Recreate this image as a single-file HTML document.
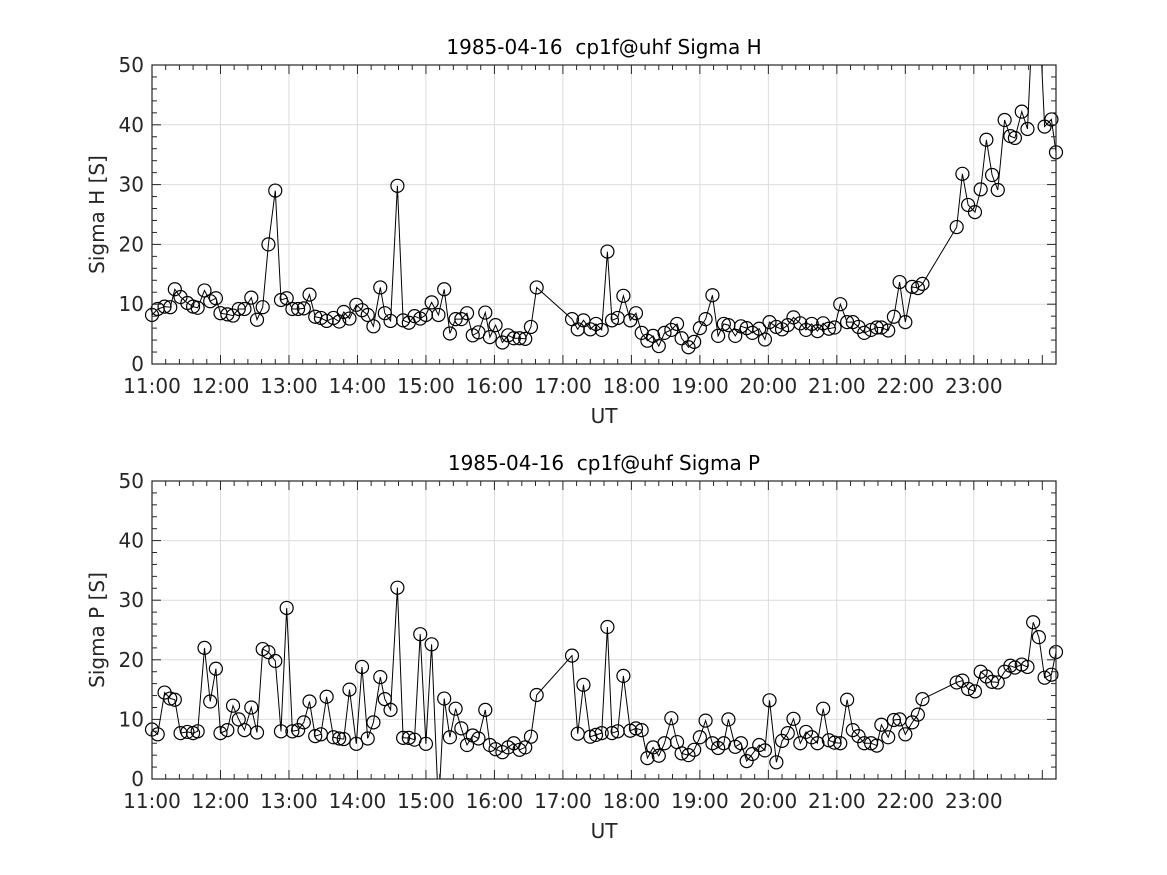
<!DOCTYPE html>
<html><head><meta charset="utf-8"><style>
body{margin:0;background:#fff;}
svg{display:block;font-family:"DejaVu Sans","Liberation Sans",sans-serif;}
text{white-space:pre;}
</style></head><body>
<svg id="fig" width="1167" height="875" viewBox="0 0 1167 875"></svg>
<script>
const times=[0,5,11,16,20,25,31,36,40,46,51,56,60,66,71,76,81,87,92,97,102,108,113,118,123,128,133,138,143,148,153,159,164,168,173,179,184,189,194,200,204,209,215,220,225,230,235,240,245,251,256,261,266,271,276,281,286,292,296,301,307,312,317,322,327,332,337,368,373,378,384,389,394,399,403,408,413,419,424,429,434,439,444,449,455,460,464,470,475,480,485,491,496,501,505,511,516,521,526,532,537,541,547,552,557,562,568,573,578,583,588,593,598,603,609,614,619,624,630,635,639,645,650,655,660,666,671,675,705,710,715,721,726,731,736,741,747,752,756,762,767,772,777,782,788,792];
const sigmaH=[8.2,9.2,9.6,9.5,12.5,11.2,10.2,9.6,9.4,12.3,10.5,11,8.5,8.3,8.1,9.2,9.2,11.1,7.4,9.5,20,29,10.7,11,9.2,9.2,9.3,11.6,7.9,7.7,7.2,7.7,7.1,8.7,7.6,9.9,9,8.2,6.3,12.8,8.5,7.2,29.8,7.3,6.9,8,7.6,8.2,10.3,8.2,12.5,5.1,7.5,7.5,8.5,4.8,5.3,8.6,4.5,6.5,3.6,4.8,4.3,4.3,4.2,6.2,12.8,7.5,5.8,7.3,5.8,6.7,5.7,18.8,7.3,7.7,11.4,7.3,8.5,5.2,3.9,4.7,3,5.2,5.7,6.7,4.3,2.8,3.7,6,7.5,11.5,4.7,6.7,6.5,4.7,6.3,6,5.2,5.9,4.1,7,6.2,5.8,6.5,7.8,6.8,5.7,6.7,5.5,6.8,5.9,6.1,10,7,7,6.2,5.2,5.7,6.1,6.1,5.6,7.9,13.7,7,12.9,12.7,13.4,22.9,31.8,26.6,25.4,29.2,37.5,31.6,29.1,40.8,38.1,37.8,42.2,39.3,60,60,39.7,40.9,35.4];
const sigmaP=[8.3,7.5,14.5,13.5,13.3,7.7,7.9,7.7,8,22,13,18.5,7.7,8.2,12.3,10,8.2,12,7.8,21.8,21.3,19.8,8,28.7,8,8.2,9.5,13,7.2,7.5,13.8,7,6.8,6.7,15,5.9,18.8,6.8,9.5,17.1,13.4,11.6,32.1,6.9,6.9,6.6,24.3,5.9,22.6,-5,13.5,7,11.8,8.5,5.7,7.3,6.8,11.6,5.7,5,4.5,5.3,6,4.9,5.3,7.1,14.1,20.7,7.6,15.8,7.1,7.4,7.7,25.5,7.7,8,17.3,8.1,8.5,8.2,3.5,5.3,3.9,6,10.2,6.2,4.3,4,4.9,7,9.8,6,5.2,6,10,5.4,6,3,4.2,5.7,4.8,13.2,2.8,6.4,7.7,10.1,6,7.9,7,6,11.8,6.5,6.1,6,13.3,8.2,7.2,6,6,5.6,9.1,7,9.9,10,7.5,9.5,10.8,13.4,16.2,16.5,15.1,14.7,18,17.2,16.3,16.2,18,19,18.7,19.2,18.8,26.3,23.8,17,17.5,21.3];
const xTickLabels=["11:00","12:00","13:00","14:00","15:00","16:00","17:00","18:00","19:00","20:00","21:00","22:00","23:00"];
const yTicks=[0,10,20,30,40,50];

const NS="http://www.w3.org/2000/svg";
const svg=document.getElementById('fig');
function mk(tag,attrs,parent){const e=document.createElementNS(NS,tag);for(const k in attrs)e.setAttribute(k,attrs[k]);(parent||svg).appendChild(e);return e;}
const L=152,R=1056,XMAX=792;
const xs=m=>L+(R-L)*m/XMAX;

function panel(top,bot,title,ylab,vals,id){
  const g=mk('g',{});
  
  
  const ys=v=>bot-(bot-top)*v/50;
  mk('rect',{x:L,y:top,width:R-L,height:bot-top,fill:'#fff'},g);
  for(let i=0;i<xTickLabels.length;i++){const x=xs(i*60);mk('line',{x1:x,x2:x,y1:top,y2:bot,stroke:'#dcdcdc','stroke-width':1},g);}
  yTicks.forEach(v=>{mk('line',{x1:L,x2:R,y1:ys(v),y2:ys(v),stroke:'#dcdcdc','stroke-width':1},g);});
  const cid='clip-'+id;
  const cp=mk('clipPath',{id:cid},g);mk('rect',{x:L,y:top,width:R-L,height:bot-top},cp);
  const dg=mk('g',{'clip-path':'url(#'+cid+')'},g);
  let d='';times.forEach((t,i)=>{d+=(i?'L':'M')+xs(t).toFixed(1)+','+ys(vals[i]).toFixed(1);});
  const ln=mk('path',{d:d,fill:'none',stroke:'#000','stroke-width':1},dg);
  
  
  const mg=mk('g',{},g);
  times.forEach((t,i)=>{if(vals[i]<0||vals[i]>50)return;const c=mk('circle',{cx:xs(t),cy:ys(vals[i]),r:6.5,fill:'none',stroke:'#000','stroke-width':1.2},mg);
    
    });
  mk('rect',{x:L,y:top,width:R-L,height:bot-top,fill:'none',stroke:'#262626','stroke-width':1.2},g);
  for(let m=0;m<=XMAX;m+=12){const x=xs(m);const major=m%60===0;const len=major?9:5;
    mk('line',{x1:x,x2:x,y1:bot,y2:bot-len,stroke:'#262626'},g);mk('line',{x1:x,x2:x,y1:top,y2:top+len,stroke:'#262626'},g);}
  for(let v=0;v<=50;v+=2){const y=ys(v);const len=v%10===0?9:5;
    mk('line',{x1:L,x2:L+len,y1:y,y2:y,stroke:'#262626'},g);mk('line',{x1:R,x2:R-len,y1:y,y2:y,stroke:'#262626'},g);}
  xTickLabels.forEach((s,i)=>{const t=mk('text',{x:xs(i*60),y:bot+29,'text-anchor':'middle','font-size':20,fill:'#262626'},g);t.textContent=s;
    
    });
  yTicks.forEach(v=>{const t=mk('text',{x:L-8,y:ys(v)+7,'text-anchor':'end','font-size':20,fill:'#262626'},g);t.textContent=v;
    
    });
  const xt=mk('text',{x:(L+R)/2,y:bot+59,'text-anchor':'middle','font-size':20,fill:'#262626'},g);xt.textContent='UT';
  
  
  const yt=mk('text',{x:0,y:0,'text-anchor':'middle','font-size':20,fill:'#262626',transform:'translate(104,'+((top+bot)/2)+') rotate(-90)'},g);yt.textContent=ylab;
  
  
  const tt=mk('text',{x:(L+R)/2,y:top-11,'text-anchor':'middle','font-size':20,fill:'#000'},g);tt.textContent=title;
  
  
}
panel(65,364,'1985-04-16  cp1f@uhf Sigma H','Sigma H [S]',sigmaH,'sigma-h');
panel(481,779,'1985-04-16  cp1f@uhf Sigma P','Sigma P [S]',sigmaP,'sigma-p');
</script>
</body></html>
